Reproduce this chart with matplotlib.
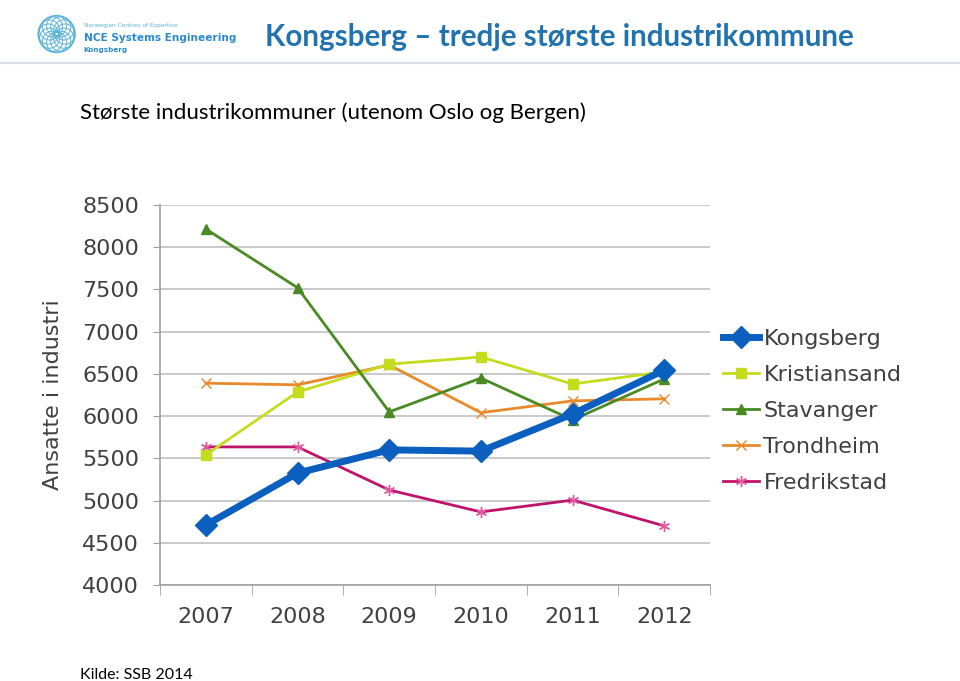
import numpy as np
import matplotlib.pyplot as plt
from matplotlib.patches import Circle

years = ['2007', '2008', '2009', '2010', '2011', '2012']
kongsberg = [4710, 5325, 5600, 5585, 6025, 6545]
kristiansand = [5540, 6285, 6615, 6700, 6380, 6525]
stavanger = [8215, 7520, 6050, 6450, 5955, 6440]
trondheim = [6390, 6370, 6605, 6040, 6180, 6205]
fredrikstad = [5635, 5635, 5125, 4865, 5005, 4700]

title = 'Kongsberg – tredje største industrikommune'
subtitle = 'Største industrikommuner (utenom Oslo og Bergen)'
source = 'Kilde: SSB 2014'
ylabel = 'Ansatte i industri'

fig = plt.figure(figsize=(9.6, 6.81), dpi=100)

# header
fig.text(0.276, 0.945, title, fontsize=21.3, fontweight='bold', color='#2173b0',
         family='Lato', va='center', ha='left')
fig.add_artist(plt.Line2D([0, 1], [0.908, 0.908], color='#d8dde2', lw=1.5))

# logo
logo = fig.add_axes([0.038, 0.918, 0.042, 0.064])
logo.set_xlim(-1.1, 1.1)
logo.set_ylim(-1.1, 1.1)
logo.set_aspect('equal')
logo.axis('off')
for a in np.linspace(0, 2 * np.pi, 12, endpoint=False):
    logo.add_patch(Circle((0.45 * np.cos(a), 0.45 * np.sin(a)), 0.55,
                          fill=False, ec='#5bb3d9', lw=0.7))
logo.add_patch(Circle((0, 0), 1.0, fill=False, ec='#5bb3d9', lw=1.2))
fig.text(0.087, 0.961, 'Norwegian Centres of Expertise', fontsize=4.2, color='#5bb3d9')
fig.text(0.087, 0.940, 'NCE Systems Engineering', fontsize=7.6, fontweight='bold',
         color='#2c8ad0')
fig.text(0.087, 0.923, 'Kongsberg', fontsize=5.2, fontweight='bold', color='#2c8ad0')

fig.text(0.083, 0.835, subtitle, fontsize=16, color='black', family='Lato',
         va='center')
fig.text(0.083, 0.003, source, fontsize=11.5, color='black', family='Lato')

# chart
ax = fig.add_axes([0.1667, 0.141, 0.573, 0.558])
x = np.arange(len(years))
tick_col = '#404040'
ax.plot(x, kongsberg, color='#0b5fbf', lw=5, marker='D', ms=11, label='Kongsberg', zorder=6)
ax.plot(x, kristiansand, color='#c4dc1c', lw=2, marker='s', ms=7, label='Kristiansand', zorder=4)
ax.plot(x, stavanger, color='#4a8a22', lw=2, marker='^', ms=7, label='Stavanger', zorder=5)
ax.plot(x, trondheim, color='#e8892a', lw=2, marker='x', ms=7, mew=1, label='Trondheim', zorder=3)
ax.plot(x, fredrikstad, color='#c0146c', lw=2, marker=(6, 2, 0), ms=8, mew=1,
        mec='#e05aa0', label='Fredrikstad', zorder=3)

ax.set_xlim(-0.5, len(years) - 0.5)
ax.set_ylim(4000, 8500)
ax.set_yticks(np.arange(4000, 8501, 500))
ax.set_xticks(x)
ax.set_xticklabels(years)
ax.set_xticks(np.arange(-0.5, len(years)), minor=True)
ax.tick_params(axis='x', which='major', length=0, pad=16, labelsize=16, labelcolor=tick_col)
ax.tick_params(axis='x', which='minor', length=7, color='#a0a0a0', direction='out')
ax.tick_params(axis='y', length=5, color='#a0a0a0', labelsize=16, labelcolor=tick_col, pad=10)
ax.grid(axis='y', color='#c0c0c0', lw=1.2)
ax.set_axisbelow(True)
for s in ['top', 'right']:
    ax.spines[s].set_visible(False)
for s in ['left', 'bottom']:
    ax.spines[s].set_color('#a0a0a0')
    ax.spines[s].set_linewidth(1.2)
ax.set_ylabel(ylabel, fontsize=16, color=tick_col, labelpad=14)

leg = ax.legend(loc='center left', bbox_to_anchor=(1.0, 0.458), frameon=False,
                fontsize=16, handlelength=1.6, handletextpad=0.2, labelspacing=0.72,
                borderaxespad=0.2)
for t in leg.get_texts():
    t.set_color(tick_col)

fig.savefig('out.png', dpi=100)
